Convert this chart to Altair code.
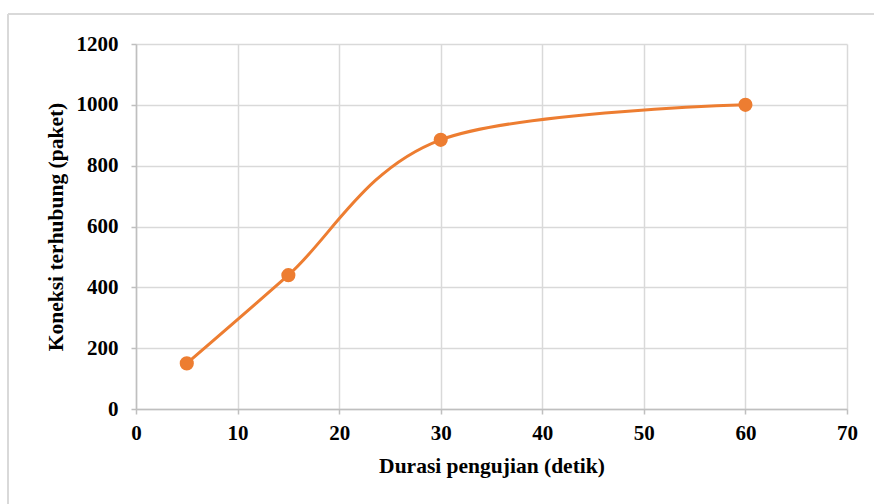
import altair as alt
import pandas as pd

durasi = [5, 15, 30, 60]
koneksi = [150, 440, 885, 1000]

df = pd.DataFrame({"durasi": durasi, "koneksi": koneksi})

FONT = "Liberation Serif"
ORANGE = "#ED7D31"

x_enc = alt.X("durasi:Q", scale=alt.Scale(domain=[0, 70], nice=False),
              axis=alt.Axis(values=list(range(0, 71, 10)), title="Durasi pengujian (detik)",
                            format="d", labelPadding=8, titlePadding=12, labelFlush=False))
y_enc = alt.Y("koneksi:Q", scale=alt.Scale(domain=[0, 1200], nice=False),
              axis=alt.Axis(values=list(range(0, 1201, 200)), title="Koneksi terhubung (paket)",
                            format="d", labelPadding=13, titlePadding=9, labelFlush=False))

line = alt.Chart(df).mark_line(color=ORANGE, strokeWidth=3, interpolate="cardinal").encode(
    x=x_enc, y=y_enc)
pts = alt.Chart(df).mark_point(color=ORANGE, filled=True, opacity=1, size=200).encode(
    x="durasi:Q", y="koneksi:Q")

border_top = alt.Chart(df).mark_rule(color="#D9D9D9", strokeWidth=2).encode(
    x=alt.value(-128), x2=alt.value(740), y=alt.value(-30))
border_left = alt.Chart(df).mark_rule(color="#D9D9D9", strokeWidth=2).encode(
    x=alt.value(-128), y=alt.value(-30), y2=alt.value(470))

chart = alt.layer(border_top, border_left, line, pts).properties(
    width=711, height=365,
    autosize=alt.AutoSizeParams(type="none"),
    padding={"left": 136, "top": 44, "right": 27, "bottom": 95},
    background="white",
).configure_view(strokeWidth=0).configure_axis(
    labelFont=FONT, titleFont=FONT, labelFontSize=21, titleFontSize=21.5,
    labelFontWeight="bold", titleFontWeight="bold", labelColor="black", titleColor="black",
    gridColor="#D9D9D9", gridWidth=1.5, gridOpacity=1, domainColor="#BFBFBF", domainWidth=1.5,
    tickColor="#BFBFBF", tickSize=5, tickWidth=1.5,
)

chart.save("out.html", embed_options={"renderer": "svg", "actions": False})
